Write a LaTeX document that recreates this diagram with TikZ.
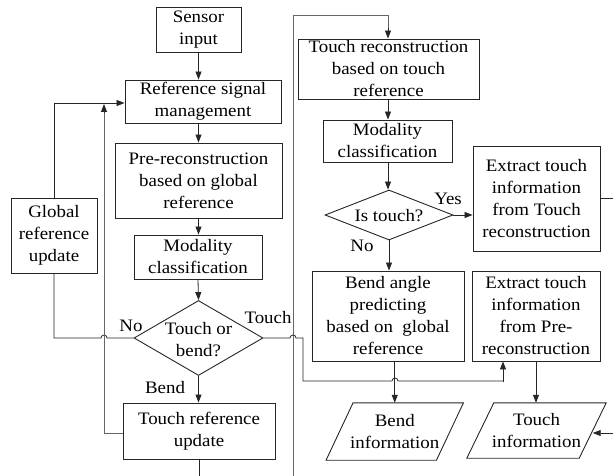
\documentclass[tikz,border=0pt]{standalone}
\usepackage{fontspec}
\setmainfont{Liberation Serif}[FakeStretch=1.08]
\usetikzlibrary{arrows.meta,shapes.geometric,calc}
\begin{document}
\begin{tikzpicture}[x=1pt,y=-1pt,
  every node/.style={font=\fontsize{17.5}{22}\selectfont, align=center, inner sep=0pt},
  box/.style={draw=black!85, line width=0.9pt, rectangle},
  dia/.style={draw=black!85, line width=0.9pt, diamond},
  para/.style={rectangle},
  paraline/.style={draw=black!85, line width=0.9pt},
  conn/.style={draw=black!85, line width=0.8pt},
  arr/.style={conn, -{Triangle[length=8pt,width=6pt]}},
  longline/.style={draw=black!60, line width=1pt},
  lbl/.style={}]
\useasboundingbox (0,0) rectangle (613,476);

% left column
\node[box, minimum width=85, minimum height=45] (sensor) at (198.5,29.5) {Sensor\\input};
\node[box, minimum width=156, minimum height=43] (refsig) at (203,101.5) {Reference signal\\management};
\node[box, minimum width=167, minimum height=75] (prerec) at (198.5,180.5) {Pre-reconstruction\\based on global\\reference};
\node[box, minimum width=86, minimum height=75] (globref) at (54,235.5) {Global\\reference\\update};
\node[box, minimum width=128, minimum height=44] (modL) at (198,257) {Modality\\classification};
\node[dia, minimum width=129, minimum height=75] (diamL) at (198.5,338) {};
\node (diamLtext) at (198.5,340) {Touch or\\bend?};
\node[box, minimum width=152, minimum height=56] (touchref) at (199,431) {Touch reference\\update};

% right column
\node[box, minimum width=181, minimum height=60] (touchrec) at (388.5,69) {Touch reconstruction\\based on touch\\reference};
\node[box, minimum width=129, minimum height=42] (modR) at (387.5,141) {Modality\\classification};
\node[dia, minimum width=128, minimum height=50] (diamR) at (389,215) {};
\node (diamRtext) at (389,216) {Is touch?};
\node[box, minimum width=127, minimum height=105] (extT) at (536.5,198.5) {Extract touch\\information\\from Touch\\reconstruction};
\node[box, minimum width=152, minimum height=90] (bend) at (388,316) {Bend angle\\predicting\\based on\ \ global\\reference};
\node[box, minimum width=128, minimum height=90] (extP) at (536,316) {Extract touch\\information\\from Pre-\\reconstruction};
\node[para, minimum width=110, minimum height=57] (bendinfo) at (394.75,431.5) {Bend\\information};
\node[para, minimum width=112, minimum height=55] (touchinfo) at (536.5,430.5) {Touch\\information};
\draw[paraline] ([xshift=13.5pt]bendinfo.north west) -- ([xshift=13.5pt]bendinfo.north east)
  -- ([xshift=-13.5pt]bendinfo.south east) -- ([xshift=-13.5pt]bendinfo.south west) -- cycle;
\draw[paraline] ([xshift=13.5pt]touchinfo.north west) -- ([xshift=13.5pt]touchinfo.north east)
  -- ([xshift=-13.5pt]touchinfo.south east) -- ([xshift=-13.5pt]touchinfo.south west) -- cycle;

% labels
\node[lbl] (lNo) at (131,326) {No};
\node[lbl] (lTouch) at (268,318) {Touch};
\node[lbl] (lBend) at (165,388) {Bend};
\node[lbl] (lYes) at (448,199) {Yes};
\node[lbl] (lNo2) at (362,246) {No};

% free ends
\coordinate (botL) at (199,476);
\coordinate (botM) at (293,476);
\coordinate (topM) at (293,16);
\coordinate (upTip) at (104,104);
\coordinate (edgeA) at (613,198);
\coordinate (edgeB) at (613,433);

% left connectors
\draw[arr] (sensor.south) -- (sensor.south |- refsig.north);
\draw[arr] (sensor.south |- refsig.south) -- (sensor.south |- prerec.north);
\draw[arr] (prerec.south) -- (modL.north -| prerec.south);
\draw[arr] (modL.south) -- (diamL.north);
\draw[arr] (diamL.south) -- (touchref.north -| diamL.south);
\draw[arr] (globref.north) |- (refsig.west |- 0,103);
\draw[conn] (diamL.west) -- (107,338) arc[start angle=0, end angle=-180, radius=3] -- (54,338) -- (globref.south);
\draw[longline] (touchref.west |- 0,433) -- (104,433) -- (104,110);
\draw[arr] (104,112) -- (upTip);
\draw[conn] (touchref.south) -- (botL);

% long middle line
\draw[longline] (botM) -- (topM) -- (388,16) -- (388,30);
\draw[arr] (388,28) -- (touchrec.north -| 388,0);

% touch branch
\draw[conn] (diamL.east) -- (290,338) arc[start angle=180, end angle=360, radius=3] -- (303,338) -- (303,381)
  -- (392,381) arc[start angle=180, end angle=360, radius=3] -- (503,381);
\draw[arr] (503,382) -- (extP.south -| 503,0);

% right connectors
\draw[arr] (touchrec.south -| 388,0) -- (modR.north -| 388,0);
\draw[arr] (modR.south -| 388,0) -- (diamR.north -| 388,0);
\draw[arr] (diamR.east) -- (extT.west |- diamR.east);
\draw[arr] (diamR.south) -- (bend.north -| diamR.south);
\draw[arr] (bend.south -| bendinfo.north) -- (bendinfo.north);
\draw[arr] (extP.south) -- (touchinfo.north -| extP.south);
\draw[conn] (extT.east |- edgeA) -- (edgeA);
\draw[arr] (edgeB) -- (touchinfo.east |- edgeB);
\end{tikzpicture}
\end{document}
